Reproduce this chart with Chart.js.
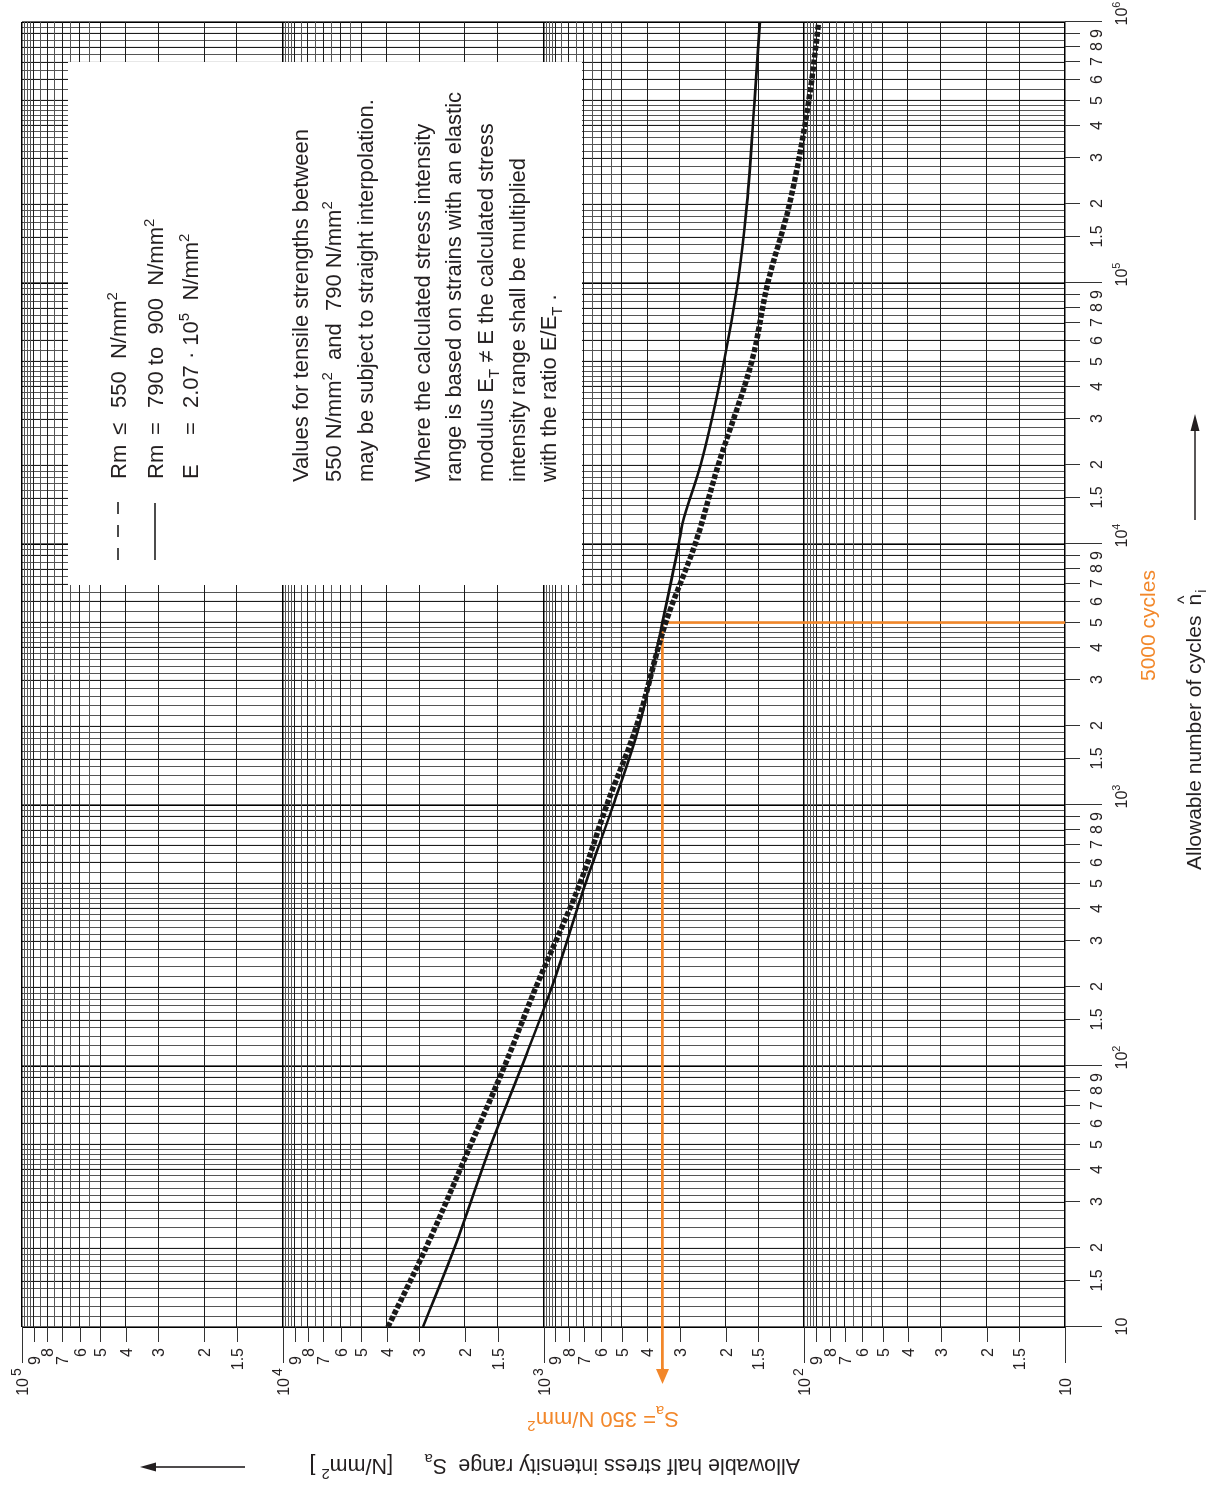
<!DOCTYPE html>
<html>
<head>
<meta charset="utf-8">
<title>Allowable half stress intensity range</title>
<script src="https://cdn.jsdelivr.net/npm/chart.js@4.4.1/dist/chart.umd.min.js"></script>
<style>
  html, body { margin: 0; padding: 0; background: #fff; }
  #wrap { position: relative; width: 1217px; height: 1490px; overflow: hidden; }
  /* the sheet is printed landscape: draw it upright, then turn it a quarter left */
  #chart { position: absolute; left: 0; top: 0; transform-origin: 0 0; transform: translateY(1490px) rotate(-90deg); }
</style>
</head>
<body>
<div id="wrap"><canvas id="chart" width="1490" height="1217"></canvas></div>
<script>
// fatigue curves, Sa in N/mm² over allowable number of cycles
const cyclesLow  = [10, 20, 50, 100, 200, 500, 1000, 2000, 5000, 10000, 20000, 50000, 100000, 200000, 500000, 1000000];
const stressLow  = [3950, 2830, 1900, 1410, 1070, 725, 572, 440, 340, 262, 214, 159, 138, 114, 96, 88];
const cyclesHigh = [10, 20, 50, 100, 200, 500, 1000, 2000, 5000, 10000, 12000, 20000, 50000, 100000, 200000, 500000, 1000000];
const stressHigh = [2900, 2200, 1590, 1210, 930, 690, 540, 430, 350, 303, 293, 250, 203, 180, 166, 155, 148];

// log paper rulings
const cycleDecades  = [10, 100, 1000, 10000, 100000, 1000000];
const stressDecades = [10, 100, 1000, 10000, 100000];
const labelledSteps = [1.5, 2, 3, 4, 5, 6, 7, 8, 9];
const cycleSteps  = [1, 1.1, 1.2, 1.3, 1.4, 1.5, 1.6, 1.7, 1.8, 1.9, 2, 2.2, 2.4, 2.6, 2.8, 3, 3.2, 3.4, 3.6, 3.8,
                     4, 4.2, 4.4, 4.6, 4.8, 5, 5.5, 6, 6.5, 7, 7.5, 8, 8.5, 9, 9.5];
const stressSteps = [1, 1.5, 2, 3, 4, 5, 5.5, 6, 6.5, 7, 7.5, 8, 8.5, 9, 9.25, 9.5, 9.75];

// worked example
const markCycles = 5000;
const markStress = 350;

const FONT = '"Liberation Sans", Arial, Helvetica, sans-serif';
const INK = '#231f20';
const ORANGE = '#f2872a';
const TICK_FONT = 16;

function gridValues(decades, steps) {
  const out = [];
  decades.slice(0, -1).forEach(d => steps.forEach(s => out.push(+(d * s).toPrecision(6))));
  out.push(decades[decades.length - 1]);
  return out;
}

function stepKind(v) {
  const e = Math.floor(Math.log10(v) + 1e-9);
  const m = +(v / Math.pow(10, e)).toFixed(3);
  if (m === 1) return 'decade';
  return labelledSteps.includes(m) ? 'label' : 'fine';
}

const gridColor = c => ({ decade: '#000', label: '#1c1c1c', fine: '#555' })[stepKind(c.tick.value)];
const gridWidth = c => ({ decade: 1.6, label: 1.1, fine: 1 })[stepKind(c.tick.value)];

function setFont(ctx, size) { ctx.font = size + 'px ' + FONT; }

// draws a line of text made of runs: 'plain' or [text, 'sup' | 'sub']
function drawRuns(ctx, runs, x, y, size, align) {
  const parts = runs.map(r => {
    const [text, kind] = Array.isArray(r) ? r : [r, ''];
    const s = kind ? size * 0.68 : size;
    setFont(ctx, s);
    const dy = kind === 'sup' ? -size * 0.42 : kind === 'sub' ? size * 0.26 : 0;
    return { text, s, dy, w: ctx.measureText(text).width };
  });
  const total = parts.reduce((a, p) => a + p.w, 0);
  let cx = align === 'right' ? x - total : align === 'center' ? x - total / 2 : x;
  ctx.textAlign = 'left';
  ctx.textBaseline = 'alphabetic';
  parts.forEach(p => { setFont(ctx, p.s); ctx.fillText(p.text, cx, y + p.dy); cx += p.w; });
  return total;
}

// text running upwards on the upright sheet
function drawRunsUp(ctx, runs, u, v, size, align) {
  ctx.save();
  ctx.translate(u, v);
  ctx.rotate(-Math.PI / 2);
  drawRuns(ctx, runs, 0, 0, size, align);
  ctx.restore();
}

function line(ctx, x1, y1, x2, y2) {
  ctx.beginPath(); ctx.moveTo(x1, y1); ctx.lineTo(x2, y2); ctx.stroke();
}

function arrow(ctx, x1, y1, x2, y2, head, half) {
  const ang = Math.atan2(y2 - y1, x2 - x1);
  const bx = x2 - Math.cos(ang) * head, by = y2 - Math.sin(ang) * head;
  line(ctx, x1, y1, bx, by);
  ctx.beginPath();
  ctx.moveTo(x2, y2);
  ctx.lineTo(bx + Math.sin(ang) * half, by - Math.cos(ang) * half);
  ctx.lineTo(bx - Math.sin(ang) * half, by + Math.cos(ang) * half);
  ctx.closePath();
  ctx.fill();
}

const paperPlugin = {
  id: 'paper',
  beforeDatasetsDraw(chart) {
    const { ctx, scales: { x, y }, chartArea: a } = chart;
    ctx.save();
    // notes panel over the ruling
    ctx.fillStyle = '#fff';
    ctx.fillRect(905, 68, 523, 514);
    // 5000 cycles -> Sa = 350 N/mm²
    const gu = x.getPixelForValue(markCycles), gv = y.getPixelForValue(markStress);
    ctx.strokeStyle = ORANGE; ctx.fillStyle = ORANGE; ctx.lineWidth = 2.6;
    ctx.beginPath(); ctx.moveTo(gu, a.bottom); ctx.lineTo(gu, gv); ctx.lineTo(118, gv); ctx.stroke();
    arrow(ctx, 122, gv, 106, gv, 15, 6.5);
    ctx.restore();
  },
  afterDraw(chart) {
    const { ctx, scales: { x, y }, chartArea: a } = chart;
    ctx.save();
    ctx.strokeStyle = '#333'; ctx.fillStyle = INK; ctx.lineWidth = 1;

    // cycle axis ticks and labels
    cycleDecades.forEach((d, i) => {
      const u = Math.round(x.getPixelForValue(d)) + 0.5;
      line(ctx, u, a.bottom, u, a.bottom + 37);
      if (i === 0) drawRuns(ctx, ['10'], u, 1127, TICK_FONT, 'center');
      else drawRuns(ctx, ['10', [String(i + 1), 'sup']], u - 4, 1127, TICK_FONT, 'left');
      if (i < cycleDecades.length - 1) {
        labelledSteps.forEach(s => {
          const uu = Math.round(x.getPixelForValue(d * s)) + 0.5;
          line(ctx, uu, a.bottom, uu, a.bottom + 15);
          drawRuns(ctx, [String(s)], uu, 1102, TICK_FONT, 'center');
        });
      }
    });

    // stress axis ticks and labels
    stressDecades.forEach((d, i) => {
      const v = Math.round(y.getPixelForValue(d)) + 0.5;
      line(ctx, a.left - 36, v, a.left, v);
      drawRuns(ctx, ['10'], 112, v + 5.5, TICK_FONT, 'right');
      if (i > 0) drawRuns(ctx, [String(i + 1)], 114, v - 1.5, 14, 'left');
      if (i < stressDecades.length - 1) {
        labelledSteps.forEach(s => {
          const vv = Math.round(y.getPixelForValue(d * s)) + 0.5;
          line(ctx, a.left - 15, vv, a.left, vv);
          drawRuns(ctx, [String(s)], (s === 9 || s === 7) ? 134 : 142, vv + 5.8, TICK_FONT, 'right');
        });
      }
    });

    // axis titles
    drawRunsUp(ctx, ['Allowable half stress intensity range'], 30.5, 800, 21.5, 'left');
    drawRunsUp(ctx, ['S', ['a', 'sub']], 30.5, 447, 21.5, 'left');
    drawRunsUp(ctx, ['[N/mm', ['2', 'sup'], ' ]'], 30.5, 393, 21.5, 'left');
    ctx.strokeStyle = INK; ctx.lineWidth = 1.6;
    arrow(ctx, 23, 245, 23, 140, 16, 4.5);

    const tw = drawRuns(ctx, ['Allowable number of cycles'], 620, 1201, 21, 'left');
    setFont(ctx, 21);
    const nu = 620 + tw + 10, nw = ctx.measureText('n').width;
    drawRuns(ctx, ['n'], nu, 1201, 21, 'left');
    drawRuns(ctx, ['^'], nu + nw / 2, 1190, 18, 'center');
    drawRuns(ctx, [['i', 'sub']], nu + nw + 1, 1201, 21, 'left');
    arrow(ctx, 970, 1195, 1076, 1195, 17, 4.5);

    // worked example labels
    ctx.fillStyle = ORANGE;
    drawRuns(ctx, [markCycles + ' cycles'], x.getPixelForValue(markCycles) - 3, 1155, 21, 'center');
    drawRunsUp(ctx, ['S', ['a', 'sub'], '= ' + markStress + ' N/mm', ['2', 'sup']], 78, 679, 22, 'left');

    // notes
    ctx.fillStyle = INK;
    ctx.strokeStyle = '#111';
    ctx.lineWidth = 1.6;
    ctx.setLineDash([12, 11]);
    line(ctx, 930, 118, 990, 118);
    ctx.setLineDash([]);
    line(ctx, 930, 155, 987, 155);
    const fs = 22, base = 8;
    [[118, 'Rm', '\u2264', ['550  N/mm', ['2', 'sup']]],
     [155, 'Rm', '=', ['790 to  900  N/mm', ['2', 'sup']]],
     [190, 'E', '=', ['2.07 \u00b7 10', ['5', 'sup'], '  N/mm', ['2', 'sup']]]].forEach(([v, sym, rel, val]) => {
      drawRuns(ctx, [sym], 1011, v + base, fs, 'left');
      drawRuns(ctx, [rel], 1055, v + base, fs, 'left');
      drawRuns(ctx, val, 1082, v + base, fs, 'left');
    });
    [[300, ['Values for tensile strengths between']],
     [333, ['550 N/mm', ['2', 'sup'], '  and  790 N/mm', ['2', 'sup']]],
     [365, ['may be subject to straight interpolation.']],
     [422, ['Where the calculated stress intensity']],
     [453, ['range is based on strains with an elastic']],
     [485, ['modulus E', ['T', 'sub'], ' \u2260 E the calculated stress']],
     [517, ['intensity range shall be multiplied']],
     [548, ['with the ratio E/E', ['T', 'sub'], ' .']]].forEach(([v, runs]) => {
      drawRuns(ctx, runs, 1008, v + base, fs, 'left');
    });
    ctx.restore();
  }
};

new Chart(document.getElementById('chart'), {
  type: 'line',
  data: {
    datasets: [
      {
        label: 'Rm \u2264 550 N/mm\u00b2',
        data: cyclesLow.map((n, i) => ({ x: n, y: stressLow[i] })),
        borderColor: '#1a1a1a',
        borderWidth: 5.5,
        borderDash: [5, 2],
        pointRadius: 0,
        cubicInterpolationMode: 'monotone',
        fill: false
      },
      {
        label: 'Rm = 790 to 900 N/mm\u00b2',
        data: cyclesHigh.map((n, i) => ({ x: n, y: stressHigh[i] })),
        borderColor: '#111',
        borderWidth: 2.6,
        pointRadius: 0,
        cubicInterpolationMode: 'monotone',
        fill: false
      }
    ]
  },
  options: {
    responsive: false,
    animation: false,
    devicePixelRatio: 1,
    layout: { padding: { top: 22, right: 22, left: 0, bottom: 0 } },
    plugins: { legend: { display: false }, tooltip: { enabled: false } },
    scales: {
      x: {
        type: 'logarithmic', min: 10, max: 1000000,
        afterBuildTicks: s => { s.ticks = gridValues(cycleDecades, cycleSteps).map(v => ({ value: v })); },
        afterFit: s => { s.height = 152; },
        ticks: { display: false, autoSkip: false },
        grid: { color: gridColor, lineWidth: gridWidth, drawTicks: false },
        border: { display: false }
      },
      y: {
        type: 'logarithmic', min: 10, max: 100000,
        afterBuildTicks: s => { s.ticks = gridValues(stressDecades, stressSteps).map(v => ({ value: v })); },
        afterFit: s => { s.width = 163; },
        ticks: { display: false, autoSkip: false },
        grid: { color: gridColor, lineWidth: gridWidth, drawTicks: false },
        border: { display: false }
      }
    }
  },
  plugins: [paperPlugin]
});
</script>
</body>
</html>
